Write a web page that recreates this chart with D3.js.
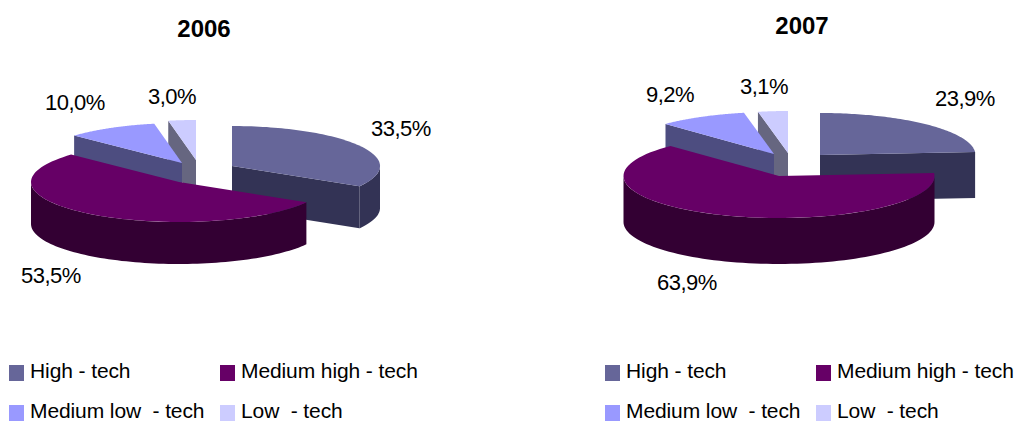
<!DOCTYPE html>
<html><head><meta charset="utf-8">
<script src="https://cdnjs.cloudflare.com/ajax/libs/d3/7.8.5/d3.min.js"></script>
<style>html,body{margin:0;padding:0;background:#fff;overflow:hidden}text{font-family:"Liberation Sans",Arial,sans-serif;fill:#000}</style>
</head><body><svg id="c" width="1016" height="421"></svg>
<script>
const categories = ["High - tech", "Medium high - tech", "Medium low  - tech", "Low  - tech"];
const years = ["2006", "2007"];
const values2006 = [33.5, 53.5, 10.0, 3.0];
const values2007 = [23.9, 63.9, 9.2, 3.1];
const topColors = ["#666699", "#660066", "#9999FF", "#CCCCFF"];
const sideColors = ["#333355", "#330033", "#4D4D80", "#666680"];
const drawOrder = [3, 2, 0, 1];

// layout: centre of each exploded slice, radii, depth, label anchors
const layouts = [
  { values: values2006, title: [204, 36.5], rx: 148, ry: 40, depth: 42,
    centres: [[232, 166], [179, 182], [182, 163], [196, 160]],
    labels: [[371, 136], [21, 283], [45, 110], [148, 104]],
    legendX: [9, 220] },
  { values: values2007, title: [802, 34], rx: 155.5, ry: 42, depth: 46,
    centres: [[820, 155], [779, 176], [774, 154], [788, 153]],
    labels: [[935, 106], [657, 290], [646, 102], [740, 94]],
    legendX: [605, 816] }
];

const svg = d3.select("#c");
const fmt = d3.formatLocale({ decimal: ",", thousands: ".", grouping: [3], currency: ["", ""] }).format(".1f");
const pie = d3.pie().sort(null).value(d => d);
const line = d3.line();
const deg = Math.PI / 180;

layouts.forEach((L, li) => {
  const arcs = pie(L.values);
  const g = svg.append("g");

  drawOrder.forEach(i => {
    const a = arcs[i];
    const [cx, cy] = L.centres[i];
    const sx = d3.scaleLinear().domain([-1, 1]).range([cx - L.rx, cx + L.rx]);
    const sy = d3.scaleLinear().domain([-1, 1]).range([cy - L.ry, cy + L.ry]);
    const pt = (t, dz = 0) => [sx(Math.sin(t)), sy(-Math.cos(t)) + dz];
    const sweep = (t0, t1, dz = 0) => d3.range(0, 81).map(k => pt(t0 + (t1 - t0) * k / 80, dz));
    const apex = dz => [cx, cy + dz];

    // visible rim: the part of the slice between 90 and 270 degrees
    const r0 = Math.max(a.startAngle, 90 * deg), r1 = Math.min(a.endAngle, 270 * deg);
    if (r1 > r0) {
      const poly = sweep(r0, r1, 0).concat(sweep(r1, r0, L.depth));
      g.append("path").attr("d", line(poly) + "Z").attr("fill", sideColors[i]);
    }
    // visible cut faces
    const cut = t => {
      const poly = [apex(0), pt(t, 0), pt(t, L.depth), apex(L.depth)];
      g.append("path").attr("d", line(poly) + "Z").attr("fill", sideColors[i]);
    };
    if (a.endAngle > 0.001 && a.endAngle < 180 * deg) cut(a.endAngle);
    if (a.startAngle > 180 * deg && a.startAngle < 2 * Math.PI) cut(a.startAngle);

    // top face
    const top = [apex(0)].concat(sweep(a.startAngle, a.endAngle));
    g.append("path").attr("d", line(top) + "Z").attr("fill", topColors[i]);
  });

  g.append("text").attr("x", L.title[0]).attr("y", L.title[1]).attr("text-anchor", "middle")
    .attr("font-size", 24).attr("font-weight", "bold").text(years[li]);

  L.values.forEach((v, i) => {
    g.append("text").attr("x", L.labels[i][0]).attr("y", L.labels[i][1])
      .attr("font-size", 22).attr("letter-spacing", -0.5).text(fmt(v) + "%");
  });

  categories.forEach((c, i) => {
    const x = L.legendX[i % 2], row = Math.floor(i / 2), y = 365 + row * 40;
    g.append("rect").attr("x", x).attr("y", y).attr("width", 15).attr("height", 16).attr("fill", topColors[i]);
    g.append("text").attr("x", x + 21).attr("y", y + 13).attr("font-size", 21)
      .attr("letter-spacing", -0.1).style("white-space", "pre").text(c);
  });
});
</script></body></html>
